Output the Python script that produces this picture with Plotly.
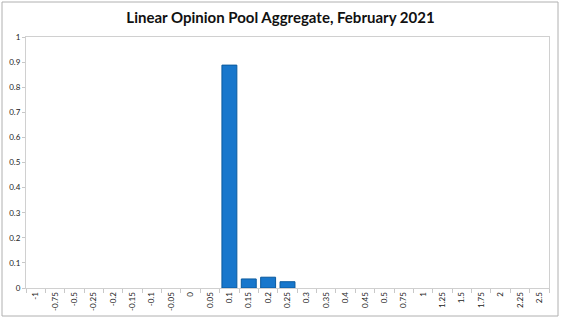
import plotly.graph_objects as go

categories = ["-1", "-0.75", "-0.5", "-0.25", "-0.2", "-0.15", "-0.1", "-0.05", "0", "0.05",
              "0.1", "0.15", "0.2", "0.25", "0.3", "0.35", "0.4", "0.45", "0.5", "0.75",
              "1", "1.25", "1.5", "1.75", "2", "2.25", "2.5"]
values = [0, 0, 0, 0, 0, 0, 0, 0, 0, 0,
          0.888, 0.036, 0.043, 0.025, 0, 0, 0, 0, 0, 0,
          0, 0, 0, 0, 0, 0, 0]
y_ticks = [0, 0.1, 0.2, 0.3, 0.4, 0.5, 0.6, 0.7, 0.8, 0.9, 1]
y_tick_labels = ["0", "0.1", "0.2", "0.3", "0.4", "0.5", "0.6", "0.7", "0.8", "0.9", "1"]

W, H = 561, 320
L, R, T, B = 26, 12, 37, 32
pw, ph = W - L - R, H - T - B

fig = go.Figure(go.Bar(
    x=categories, y=values,
    marker=dict(color="#1877cc",
                line=dict(color="#0b5a9e", width=[1 if v > 0 else 0 for v in values])),
    width=0.77,
))

font = "Lato, 'Open Sans', sans-serif"
fig.update_layout(
    width=W, height=H,
    margin=dict(l=L, r=R, t=T, b=B),
    paper_bgcolor="white", plot_bgcolor="white",
    showlegend=False,
    title=dict(text="<b>Linear Opinion Pool Aggregate, February 2021</b>",
               x=0.5, xanchor="center", y=1 - 18 / H, yanchor="middle",
               font=dict(family=font, size=15, color="#111111")),
    xaxis=dict(type="category", categoryorder="array", categoryarray=categories,
               tickangle=-90, tickfont=dict(family=font, size=8, color="#222222"),
               showgrid=False, showline=True, linecolor="#d0d0d0", mirror=True,
               ticks="outside", ticklen=4, tickcolor="#c8c8c8", tickson="boundaries",
               automargin=False, fixedrange=True),
    yaxis=dict(range=[0, 1], tickvals=y_ticks, ticktext=y_tick_labels,
               tickfont=dict(family=font, size=8, color="#222222"),
               showgrid=False, showline=True, linecolor="#d0d0d0", mirror=True,
               ticks="outside", ticklen=3, tickcolor="#c8c8c8", zeroline=False,
               automargin=False, fixedrange=True),
    bargap=0.23,
)

# outer chart border
fig.add_shape(type="rect", xref="paper", yref="paper",
              x0=(2 - L) / pw, x1=(W - 3 - L) / pw,
              y0=-(B - 4) / ph, y1=(ph + T - 2) / ph,
              line=dict(color="#b0b0b0", width=1), fillcolor="rgba(0,0,0,0)")

fig.write_html("out.html")
